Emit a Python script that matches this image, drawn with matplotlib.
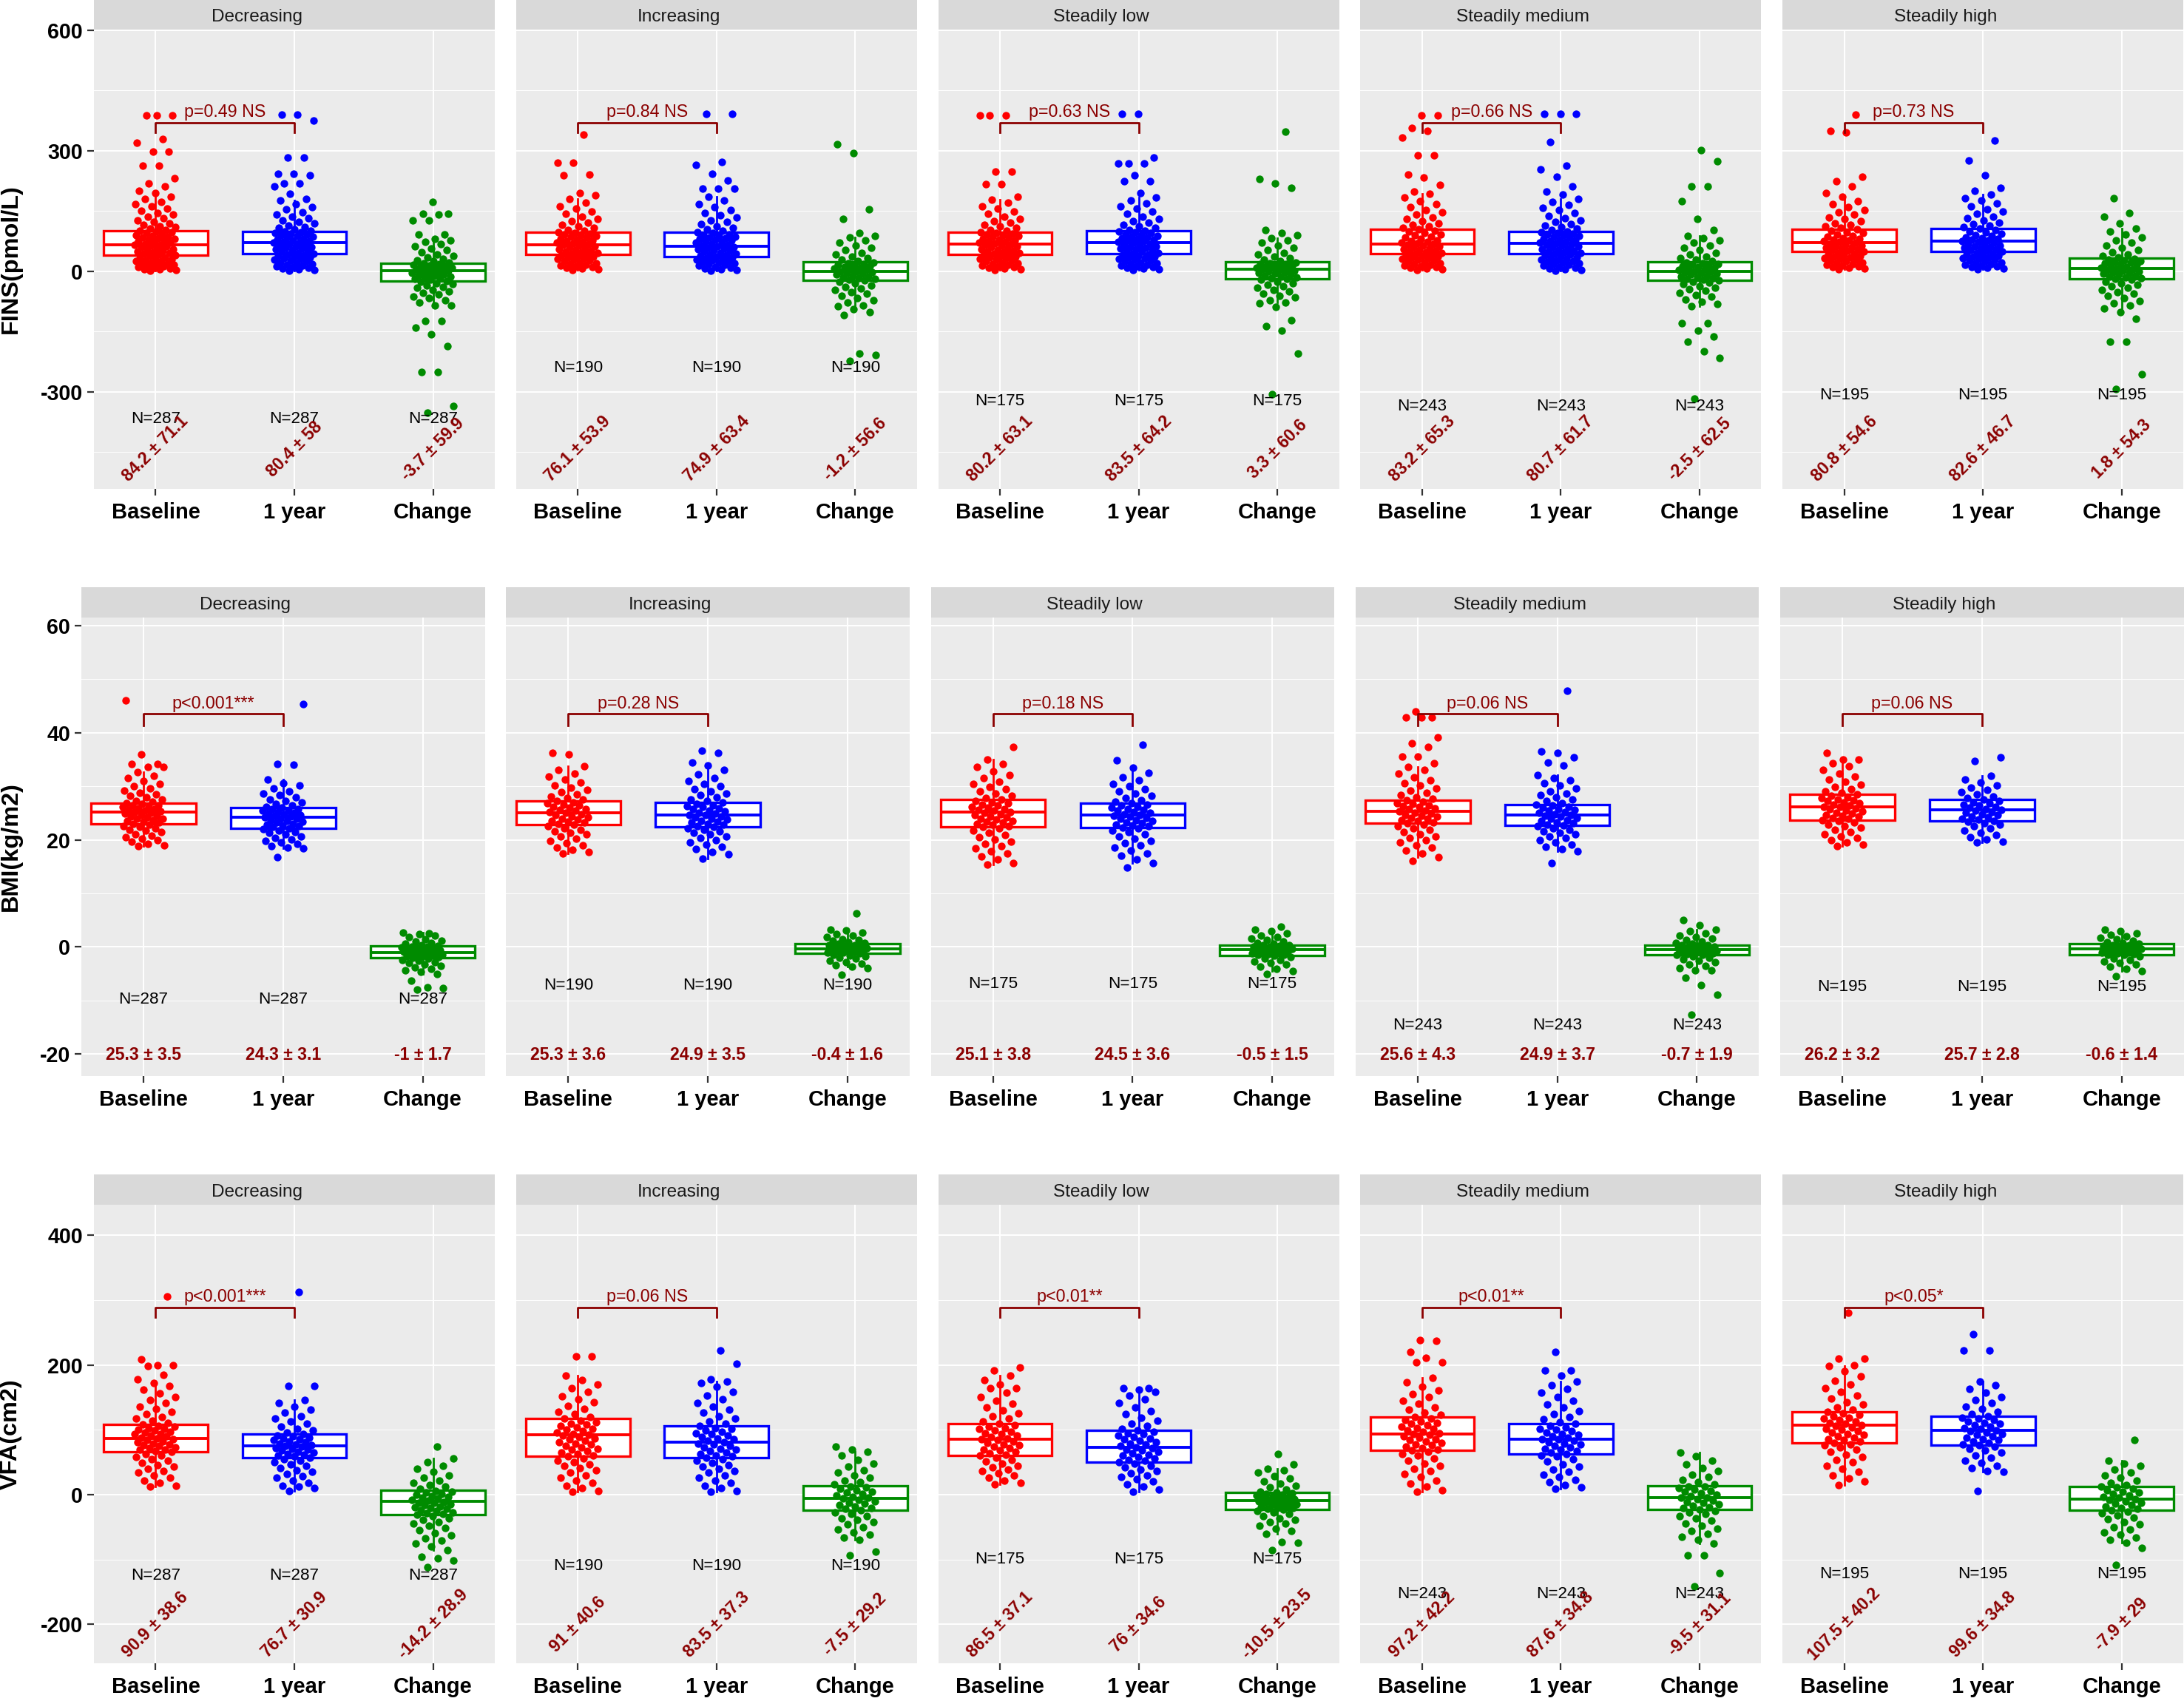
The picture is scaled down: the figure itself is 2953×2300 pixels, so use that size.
import numpy as np
import matplotlib.pyplot as plt

plt.rcParams['font.family'] = ['Liberation Sans', 'DejaVu Sans']

GROUPS = ['Decreasing', 'Increasing', 'Steadily low', 'Steadily medium', 'Steadily high']
TIMES = ['Baseline', '1 year', 'Change']
N_SUBJ = [287, 190, 175, 243, 195]

# ---------------- FINS (pmol/L) ----------------
FINS_BASE = [
    [1, 2, 4, 5, 7, 8, 10, 12, 13, 15, 17, 18, 20, 22, 24, 25, 27, 29, 31, 33, 35, 37,
     39, 41, 43, 45, 47, 49, 51, 53, 55, 57, 59, 61, 63, 65, 66, 68, 70, 72, 74, 76, 78, 80, 82, 84, 86, 88, 90, 92,
     94, 96, 98, 100,
     103, 106, 109, 112, 115, 119, 123, 127, 131, 135, 140, 145, 150, 155, 161, 167, 173, 179, 185,
     195, 200, 210, 218, 231, 262, 262, 297, 297, 320, 328, 387, 387, 387],
    [2, 4, 6, 8, 10, 12, 14, 16, 18, 20, 22, 24, 26, 28, 30, 32, 34, 36, 38, 40,
     41, 43, 45, 47, 49, 51, 53, 55, 57, 59, 61, 63, 65, 67, 69, 71, 73, 75, 77, 79, 81, 83, 85, 87, 89, 91, 93, 95, 97,
     100, 103, 107, 111, 115, 120, 125, 130, 136, 142, 148, 155, 162, 170, 180,
     189, 195, 239, 241, 269, 269, 339],
    [2, 4, 6, 8, 10, 12, 14, 16, 18, 20, 22, 24, 26, 28, 30, 32, 34, 36, 38, 40,
     41, 43, 45, 47, 49, 51, 53, 55, 57, 59, 61, 63, 65, 67, 69, 71, 73, 75, 77, 79, 81, 83, 85, 87, 89, 91, 93, 95, 97,
     100, 103, 107, 111, 115, 120, 125, 130, 136, 142, 148, 155, 162, 170, 178,
     185, 217, 217, 247, 247, 388, 388, 388],
    [2, 4, 6, 8, 10, 12, 14, 16, 18, 20, 22, 24, 26, 28, 30, 32, 34, 36, 38, 40, 42,
     43, 45, 47, 49, 51, 53, 55, 57, 59, 61, 63, 65, 67, 69, 71, 73, 75, 77, 80, 83, 86, 89, 92, 95, 98, 101, 104,
     107, 111, 115, 119, 124, 129, 134, 140, 146, 152, 159, 166, 174, 183, 192,
     197, 215, 232, 241, 288, 288, 333, 348, 356, 388, 388],
    [4, 6, 8, 10, 12, 14, 16, 18, 20, 22, 24, 26, 28, 30, 32, 34, 36, 38, 40, 42, 44, 46,
     48, 50, 52, 54, 56, 58, 60, 62, 64, 66, 68, 70, 72, 74, 76, 78, 80, 82, 85, 88, 91, 94, 97, 100, 104,
     107, 111, 115, 119, 124, 129, 134, 140, 146, 152, 159, 166, 174, 185,
     195, 211, 223, 234, 346, 349, 389],
]
FINS_YEAR = [
    [1, 2, 4, 6, 8, 10, 12, 14, 16, 18, 20, 22, 24, 26, 28, 30, 32, 34, 36, 38, 40, 42,
     44, 46, 48, 50, 52, 54, 56, 58, 60, 62, 64, 66, 68, 70, 71, 73, 75, 77, 79, 81, 83, 85, 87, 89, 91, 93, 95, 97, 98,
     101, 104, 107, 110, 114, 118, 122, 126, 131, 136, 141, 147, 153, 160, 167, 175,
     180, 193, 210, 218, 218, 239, 243, 243, 283, 283, 374, 390, 390],
    [1, 3, 5, 7, 9, 11, 13, 15, 17, 19, 21, 23, 25, 27, 29, 31, 33, 35,
     36, 38, 40, 42, 44, 46, 48, 50, 52, 54, 56, 58, 60, 62, 64, 66, 68, 70, 72, 74, 76, 78, 80, 82, 84, 86, 88, 90, 92,
     94, 97,
     100, 104, 108, 112, 117, 122, 127, 133, 139, 145, 152, 159, 167, 176, 185,
     205, 205, 205, 225, 243, 264, 271, 392, 392],
    [2, 4, 6, 8, 10, 12, 14, 16, 18, 20, 22, 24, 26, 28, 30, 32, 34, 36, 38, 40, 42,
     44, 46, 48, 50, 52, 54, 56, 58, 60, 62, 64, 66, 68, 70, 72, 74, 76, 78, 80, 82, 84, 86, 88, 90, 92, 94, 96, 98, 100,
     103, 107, 111, 115, 120, 125, 130, 136, 142, 148, 155, 162, 169, 176, 183,
     194, 223, 223, 238, 268, 268, 268, 283, 392, 392],
    [1, 3, 5, 7, 9, 11, 13, 15, 17, 19, 21, 23, 25, 27, 29, 31, 33, 35, 37, 39, 41,
     43, 45, 47, 49, 51, 53, 55, 57, 59, 61, 63, 65, 67, 69, 71, 73, 75, 77, 79, 81, 83, 85, 87, 89, 91, 93, 95, 97, 99,
     102, 105, 109, 113, 117, 122, 127, 132, 138, 144, 151, 158, 165, 172, 180,
     190, 197, 211, 234, 254, 262, 322, 392, 392, 392],
    [4, 6, 8, 10, 12, 14, 16, 18, 20, 22, 24, 26, 28, 30, 32, 34, 36, 38, 40, 42, 44, 46,
     48, 50, 52, 54, 56, 58, 60, 62, 64, 66, 68, 70, 72, 74, 76, 78, 80, 82, 84, 87, 90, 93, 96, 99, 102, 106,
     109, 113, 117, 121, 126, 131, 136, 142, 148, 154, 161, 168, 175, 182, 190,
     200, 208, 239, 275, 324],
]
FINS_CHANGE = [
    [-352, -336, -251, -251, -186, -158, -141, -124, -124, -86,
     -85, -79, -73, -68, -63, -58, -54, -50, -46, -42, -39, -36, -33, -30, -27,
     -24, -22, -20, -18, -16, -14, -12, -10, -8, -6, -4, -2, 0, 1, 2, 4, 5, 7, 8, 10, 11, 13, 14, 16, 17, 19,
     21, 24, 27, 30, 34, 38, 42, 47, 52, 57, 62, 67, 72, 76, 80,
     91, 91, 127, 127, 140, 142, 142, 172],
    [-223, -208, -205, -110, -103, -95, -88,
     -85, -79, -73, -67, -62, -57, -52, -47, -43, -39, -35, -31, -27,
     -23, -21, -19, -17, -15, -13, -11, -9, -7, -5, -3, -1, 0, 2, 4, 6, 8, 10, 12, 14, 16, 18, 20, 22,
     25, 28, 32, 36, 41, 46, 52, 58, 64, 70, 77, 84,
     88, 95, 129, 154, 294, 316],
    [-306, -205, -149, -137, -122, -90, -80,
     -78, -72, -66, -61, -56, -51, -46, -42, -38, -34, -30, -26, -22,
     -19, -17, -15, -13, -11, -9, -7, -5, -3, -1, 1, 3, 5, 6, 8, 9, 11, 12, 14, 15, 17, 18, 20, 22,
     25, 28, 32, 36, 41, 46, 52, 58, 64, 70, 76, 82,
     90, 94, 103, 208, 219, 230, 347],
    [-317, -216, -200, -176, -163, -149, -130, -130,
     -88, -82, -76, -70, -64, -59, -54, -49, -45, -41, -37, -33, -29, -26,
     -23, -21, -19, -17, -15, -13, -11, -9, -7, -5, -3, -1, 0, 2, 4, 6, 8, 10, 12, 14, 16, 18, 20, 22,
     25, 28, 32, 36, 41, 46, 52, 58, 64, 70, 76, 82, 88,
     103, 129, 174, 211, 211, 274, 301],
    [-293, -257, -175, -175, -118, -103,
     -92, -86, -80, -74, -68, -62, -57, -52, -47, -42, -38, -34, -30, -26, -22,
     -19, -17, -15, -13, -11, -9, -7, -5, -3, -1, 1, 3, 5, 7, 9, 11, 13, 15, 17, 19, 21, 23, 25, 27, 29, 31,
     34, 38, 42, 47, 52, 58, 64, 70, 77, 84, 91, 98, 105,
     118, 136, 144, 181],
]
# (q1, median, q3, lower whisker, upper whisker) for baseline, 1 year, change
FINS_BOX = [
    [(39, 66, 100, 1, 185), (44, 70, 98, 1, 175), (-24, 1, 18.6, -85, 80)],
    [(41, 65, 97.5, 2, 180), (36, 61.5, 97, 1, 185), (-23, 0, 22.5, -85, 84)],
    [(41, 67.5, 97.5, 2, 178), (44, 70.5, 100.5, 2, 183), (-19, 5, 22.5, -78, 82)],
    [(43, 67.5, 104, 2, 192), (43, 69, 99, 1, 180), (-23, 0, 22.5, -88, 88)],
    [(48, 70.5, 104, 4, 185), (48, 75, 106.5, 4, 190), (-19.5, 7, 31.5, -92, 105)],
]
FINS_MEAN = [[84.2, 80.4, -3.7], [76.1, 74.9, -1.2], [80.2, 83.5, 3.3], [83.2, 80.7, -2.5], [80.8, 82.6, 1.8]]
FINS_SD = [[71.1, 58, 59.9], [53.9, 63.4, 56.6], [63.1, 64.2, 60.6], [65.3, 61.7, 62.5], [54.6, 46.7, 54.3]]
FINS_P = ['p=0.49 NS', 'p=0.84 NS', 'p=0.63 NS', 'p=0.66 NS', 'p=0.73 NS']

# ---------------- BMI (kg/m2) ----------------
BMI_BASE = [
    [18.8, 19.0, 19.3, 19.6, 19.9, 20.2, 20.5, 20.8, 21.1, 21.4, 21.7, 21.9, 22.2, 22.4, 22.6, 22.8,
     23.0, 23.2, 23.4, 23.5, 23.7, 23.9, 24.0, 24.2, 24.4, 24.5, 24.7, 24.9, 25.0, 25.2, 25.3, 25.5, 25.6, 25.8, 25.9,
     26.1, 26.2, 26.4, 26.5, 26.7, 26.9,
     27.1, 27.3, 27.6, 27.9, 28.2, 28.5, 28.8, 29.2, 29.6, 30.0, 30.5, 31.0, 31.5, 32.0, 32.6,
     33.6, 33.6, 34.1, 34.1, 35.9, 46.1],
    [17.4, 17.8, 18.2, 18.6, 19.0, 19.4, 19.8, 20.2, 20.6, 21.0, 21.3, 21.6, 21.9, 22.2, 22.5,
     22.8, 23.0, 23.2, 23.4, 23.6, 23.8, 24.0, 24.2, 24.4, 24.6, 24.8, 25.0, 25.2, 25.4, 25.6, 25.8, 26.0, 26.2, 26.4,
     26.6, 26.8, 27.0, 27.2,
     27.5, 27.8, 28.1, 28.5, 28.9, 29.3, 29.7, 30.2, 30.7, 31.2, 31.8, 32.4, 33.1, 33.8,
     36.0, 36.2],
    [15.4, 15.7, 16.3, 16.9, 17.4, 17.9, 18.4, 18.9, 19.3, 19.7, 20.1, 20.5, 20.9, 21.3, 21.7, 22.1,
     22.4, 22.6, 22.8, 23.0, 23.2, 23.4, 23.6, 23.8, 24.0, 24.2, 24.4, 24.6, 24.8, 25.0, 25.2, 25.4, 25.6, 25.8, 26.0,
     26.2, 26.4, 26.6, 26.8, 27.0, 27.2, 27.5,
     27.8, 28.2, 28.6, 29.0, 29.4, 29.9, 30.4, 30.9, 31.5, 32.1, 32.8, 33.6, 34.2, 35.0,
     37.4],
    [16.1, 16.7, 17.5, 18.0, 18.5, 19.0, 19.5, 19.9, 20.3, 20.7, 21.1, 21.5, 21.9, 22.2, 22.5, 22.8,
     23.1, 23.3, 23.5, 23.7, 23.9, 24.1, 24.3, 24.5, 24.7, 24.9, 25.1, 25.3, 25.5, 25.7, 25.9, 26.1, 26.3, 26.5, 26.7,
     26.9, 27.1, 27.4,
     27.7, 28.0, 28.4, 28.8, 29.2, 29.6, 30.1, 30.6, 31.1, 31.7, 32.3, 33.0, 33.6,
     34.3, 35.6, 35.6, 37.4, 38.0, 39.2, 42.8, 42.8, 42.8, 44.0],
    [18.9, 19.1, 19.5, 19.9, 20.3, 20.7, 21.1, 21.5, 21.9, 22.3, 22.6, 22.9, 23.2, 23.5,
     23.7, 23.9, 24.1, 24.3, 24.5, 24.7, 24.9, 25.1, 25.3, 25.5, 25.7, 25.9, 26.1, 26.2, 26.4, 26.6, 26.8, 27.0, 27.2,
     27.4, 27.6, 27.8, 28.0, 28.2, 28.5,
     28.8, 29.1, 29.5, 29.9, 30.3, 30.8, 31.3, 31.8, 32.4, 33.0, 33.7, 34.3, 35.0, 35.0,
     36.3],
]
BMI_YEAR = [
    [16.8, 18.4, 18.6, 18.9, 19.2, 19.5, 19.8, 20.1, 20.4, 20.7, 21.0, 21.3, 21.5, 21.8, 22.0,
     22.2, 22.4, 22.5, 22.7, 22.9, 23.0, 23.2, 23.4, 23.5, 23.7, 23.9, 24.0, 24.2, 24.3, 24.5, 24.6, 24.8, 24.9, 25.1,
     25.2, 25.4, 25.5, 25.7, 25.8, 26.0,
     26.2, 26.4, 26.7, 27.0, 27.3, 27.6, 27.9, 28.3, 28.7, 29.1, 29.6, 30.1, 30.6, 31.2,
     34.0, 34.2, 45.4],
    [16.5, 17.3, 17.8, 18.3, 18.7, 19.1, 19.5, 19.9, 20.3, 20.7, 21.0, 21.3, 21.6, 21.9, 22.2,
     22.4, 22.6, 22.8, 23.0, 23.2, 23.4, 23.6, 23.8, 24.0, 24.2, 24.4, 24.6, 24.7, 24.9, 25.1, 25.3, 25.5, 25.7, 25.9,
     26.1, 26.3, 26.5, 26.7, 27.0,
     27.3, 27.6, 27.9, 28.3, 28.7, 29.1, 29.5, 30.0, 30.5, 31.0, 31.6, 32.2, 33.0, 33.9,
     34.4, 36.2, 36.7],
    [14.9, 15.7, 16.4, 17.0, 17.5, 18.0, 18.5, 19.0, 19.4, 19.8, 20.2, 20.6, 21.0, 21.4, 21.8, 22.1,
     22.3, 22.5, 22.7, 22.9, 23.1, 23.3, 23.5, 23.7, 23.9, 24.1, 24.3, 24.5, 24.6, 24.8, 25.0, 25.2, 25.4, 25.6, 25.8,
     26.0, 26.2, 26.4, 26.6, 26.8,
     27.1, 27.4, 27.8, 28.2, 28.6, 29.0, 29.5, 30.0, 30.5, 31.1, 31.7, 32.5, 33.5,
     34.8, 37.8],
    [15.6, 17.9, 18.3, 18.7, 19.1, 19.5, 19.9, 20.3, 20.7, 21.0, 21.3, 21.6, 21.9, 22.2, 22.5,
     22.7, 22.9, 23.1, 23.3, 23.5, 23.7, 23.9, 24.1, 24.3, 24.5, 24.7, 24.8, 25.0, 25.2, 25.4, 25.6, 25.8, 26.0, 26.2,
     26.4, 26.6,
     26.9, 27.2, 27.5, 27.9, 28.3, 28.7, 29.1, 29.6, 30.1, 30.6, 31.1, 31.6, 32.1,
     33.9, 34.5, 35.4, 36.3, 36.5, 47.8],
    [19.5, 19.7, 20.1, 20.5, 20.9, 21.3, 21.7, 22.1, 22.5, 22.8, 23.1, 23.4,
     23.6, 23.8, 24.0, 24.2, 24.4, 24.6, 24.8, 25.0, 25.2, 25.4, 25.6, 25.8, 26.0, 26.2, 26.4, 26.6, 26.8, 27.0, 27.2,
     27.5,
     27.8, 28.1, 28.5, 28.9, 29.3, 29.7, 30.2, 30.7, 31.3, 32.0,
     34.7, 35.4],
]
BMI_CHANGE = [
    [-7.9, -7.7, -7.5, -6.3,
     -5.0, -4.7, -4.4, -4.1, -3.8, -3.5, -3.3, -3.0, -2.8, -2.6, -2.4, -2.2,
     -2.0, -1.9, -1.8, -1.7, -1.6, -1.5, -1.4, -1.3, -1.2, -1.1, -1.0, -0.9, -0.8, -0.7, -0.6, -0.5, -0.4, -0.3, -0.2,
     -0.1, 0.0, 0.1, 0.2,
     0.4, 0.6, 0.8, 1.0, 1.2, 1.5, 1.8, 2.1, 2.4, 2.7, 2.6],
    [-5.2, -3.9, -3.7, -3.4, -3.1, -2.8, -2.5, -2.2, -2.0, -1.8, -1.6, -1.4,
     -1.2, -1.1, -1.0, -0.9, -0.8, -0.7, -0.6, -0.5, -0.4, -0.3, -0.2, -0.1, 0.0, 0.1, 0.2, 0.3, 0.4, 0.55,
     0.7, 0.9, 1.1, 1.3, 1.5, 1.8, 2.1, 2.4, 2.7, 3.1, 3.3, 6.3],
    [-5.0, -4.5, -4.1, -3.7, -3.3, -3.0, -2.7, -2.4, -2.1, -1.9,
     -1.6, -1.5, -1.4, -1.3, -1.2, -1.1, -1.0, -0.9, -0.8, -0.7, -0.6, -0.5, -0.4, -0.3, -0.2, -0.1, 0.0, 0.1, 0.2,
     0.3, 0.4,
     0.6, 0.8, 1.0, 1.3, 1.6, 1.9, 2.2, 2.6, 3.0, 3.3, 3.8],
    [-12.6, -8.9, -7.1, -5.7, -4.4,
     -4.3, -3.9, -3.5, -3.2, -2.9, -2.6, -2.3, -2.0, -1.8,
     -1.5, -1.4, -1.3, -1.2, -1.1, -1.0, -0.9, -0.8, -0.7, -0.6, -0.5, -0.4, -0.3, -0.2, -0.1, 0.0, 0.1, 0.2, 0.3, 0.4,
     0.6, 0.8, 1.0, 1.3, 1.6, 1.9, 2.2, 2.5, 2.9, 3.2, 4.1, 5.0],
    [-5.4, -4.5, -4.1, -3.7, -3.3, -3.0, -2.7, -2.4, -2.1, -1.8,
     -1.5, -1.4, -1.3, -1.2, -1.1, -1.0, -0.9, -0.8, -0.7, -0.6, -0.5, -0.4, -0.3, -0.2, -0.1, 0.0, 0.1, 0.2, 0.3,
     0.4, 0.55,
     0.7, 0.9, 1.1, 1.4, 1.7, 2.0, 2.3, 2.6, 3.0, 3.3],
]
BMI_BOX = [
    [(23.0, 25.2, 26.9, 18.8, 32.6), (22.2, 24.2, 26.0, 18.4, 31.2), (-2.0, -1.0, 0.2, -5.0, 2.7)],
    [(22.8, 25.0, 27.2, 17.4, 33.8), (22.4, 24.7, 27.0, 16.5, 33.9), (-1.2, -0.4, 0.55, -3.7, 3.1)],
    [(22.4, 25.2, 27.5, 15.4, 35.0), (22.3, 24.6, 26.8, 15.7, 33.5), (-1.6, -0.5, 0.4, -4.5, 3.3)],
    [(23.1, 25.3, 27.4, 16.7, 33.6), (22.7, 24.7, 26.6, 17.9, 32.1), (-1.5, -0.5, 0.4, -4.3, 3.2)],
    [(23.7, 26.2, 28.5, 18.9, 35.0), (23.6, 25.6, 27.5, 19.5, 32.0), (-1.5, -0.4, 0.55, -4.5, 3.3)],
]
BMI_MEAN = [[25.3, 24.3, -1], [25.3, 24.9, -0.4], [25.1, 24.5, -0.5], [25.6, 24.9, -0.7], [26.2, 25.7, -0.6]]
BMI_SD = [[3.5, 3.1, 1.7], [3.6, 3.5, 1.6], [3.8, 3.6, 1.5], [4.3, 3.7, 1.9], [3.2, 2.8, 1.4]]
BMI_P = ['p<0.001***', 'p=0.28 NS', 'p=0.18 NS', 'p=0.06 NS', 'p=0.06 NS']

# ---------------- VFA (cm2) ----------------
VFA_BASE = [
    [12, 14, 18, 22, 26, 30, 34, 37, 40, 43, 46, 49, 52, 55, 58, 60, 63,
     66, 67, 69, 70, 72, 73, 75, 76, 78, 79, 81, 82, 84, 85, 87, 88, 90, 91, 93, 94, 96, 97, 99, 100, 102, 103, 105,
     106, 108,
     111, 114, 117, 120, 124, 128, 132, 136, 141, 146, 151, 156, 162, 168, 172,
     178, 185, 198, 200, 200, 209, 306],
    [4, 6, 10, 14, 18, 22, 26, 30, 34, 38, 41, 44, 47, 50, 53, 56,
     59, 61, 63, 65, 67, 69, 71, 73, 75, 77, 79, 81, 83, 85, 87, 89, 91, 92, 94, 96, 98, 100, 102, 104, 106, 108, 110,
     112, 114, 117,
     120, 124, 128, 132, 137, 142, 147, 152, 158, 164, 170, 177, 184,
     213, 213],
    [16, 18, 22, 26, 30, 33, 36, 39, 42, 45, 48, 51, 54, 57,
     60, 62, 64, 66, 68, 70, 72, 74, 76, 78, 80, 82, 84, 85, 87, 89, 91, 93, 95, 97, 99, 101, 103, 105, 107, 110,
     113, 117, 121, 125, 130, 135, 140, 145, 151, 157, 164, 164, 170, 177, 184,
     191, 196],
    [4, 7, 12, 17, 22, 27, 32, 36, 40, 44, 48, 52, 56, 60, 63, 66,
     68, 70, 72, 74, 76, 78, 80, 82, 84, 86, 88, 90, 92, 93, 95, 97, 99, 101, 103, 105, 107, 109, 111, 113, 115, 117,
     120,
     123, 127, 131, 135, 140, 145, 150, 155, 161, 167, 173, 180,
     204, 204, 211, 220, 237, 238],
    [15, 20, 25, 30, 35, 40, 45, 50, 54, 58, 62, 66, 70, 73, 76, 78,
     80, 82, 84, 86, 88, 90, 92, 94, 96, 98, 100, 102, 104, 106, 107, 109, 111, 113, 115, 117, 119, 121, 123, 125, 128,
     131, 135, 139, 143, 148, 153, 158, 164, 170, 176, 183, 190, 198, 200,
     210, 210, 281],
]
VFA_YEAR = [
    [6, 10, 12, 14, 18, 22, 26, 29, 32, 35, 38, 41, 44, 47, 50, 53, 55,
     57, 59, 60, 62, 63, 65, 66, 68, 69, 71, 72, 74, 75, 76, 78, 79, 81, 82, 84, 85, 87, 88, 90, 91, 93,
     96, 99, 102, 105, 109, 113, 117, 121, 126, 131, 136, 141, 146,
     168, 168, 313],
    [4, 6, 10, 14, 18, 22, 26, 30, 34, 37, 40, 43, 46, 49, 52, 55,
     57, 59, 61, 63, 65, 67, 69, 71, 73, 75, 77, 79, 81, 83, 85, 87, 89, 91, 93, 95, 97, 99, 101, 103, 106,
     109, 113, 117, 121, 126, 131, 136, 141, 147, 153, 159, 166, 172, 175, 178,
     202, 222],
    [4, 8, 12, 16, 20, 24, 27, 30, 33, 36, 39, 42, 45, 48,
     50, 52, 54, 56, 58, 60, 62, 64, 66, 68, 70, 72, 73, 75, 77, 79, 81, 83, 85, 87, 89, 91, 93, 95, 97, 99,
     102, 106, 110, 114, 119, 124, 129, 135, 141, 147, 153, 158, 162, 164, 164],
    [9, 11, 15, 19, 23, 27, 31, 35, 39, 43, 47, 51, 55, 59, 61,
     63, 65, 67, 69, 71, 73, 75, 77, 79, 81, 83, 85, 86, 88, 90, 92, 94, 96, 98, 100, 102, 104, 106, 109,
     112, 116, 120, 124, 129, 134, 139, 145, 151, 157, 163, 169, 174,
     184, 191, 191, 220],
    [6, 35, 37, 41, 45, 49, 53, 57, 61, 65, 68, 71, 74,
     76, 78, 80, 82, 84, 86, 88, 90, 92, 94, 96, 98, 99, 101, 103, 105, 107, 109, 111, 113, 115, 117, 119, 121,
     124, 128, 132, 136, 141, 146, 151, 157, 163, 169, 175,
     222, 222, 248],
]
VFA_CHANGE = [
    [-112, -101, -98, -96,
     -85, -80, -75, -71, -67, -63, -59, -55, -51, -48, -45, -42, -39, -36, -33,
     -31, -30, -28, -27, -25, -24, -22, -21, -19, -18, -16, -15, -13, -12, -11, -9, -8, -6, -5, -3, -2, 0, 1, 3, 4, 6,
     9, 12, 15, 18, 22, 26, 30, 35, 40, 45, 50, 56, 74],
    [-94, -88,
     -70, -66, -62, -58, -54, -50, -46, -42, -39, -36, -33, -30, -27,
     -24, -22, -20, -18, -16, -14, -12, -10, -8, -6, -5, -3, -1, 1, 3, 5, 7, 9, 11, 13,
     16, 19, 22, 26, 30, 34, 38, 43, 48, 54, 60, 66, 70, 74],
    [-85, -74, -73,
     -60, -56, -52, -48, -45, -42, -39, -36, -33, -30, -27, -25,
     -23, -22, -21, -20, -19, -17, -16, -15, -14, -13, -12, -11, -10, -9, -8, -7, -6, -5, -3, -2, -1, 0, 1, 2, 3,
     5, 8, 11, 14, 17, 21, 25, 29, 34, 38, 40, 47, 63],
    [-141, -121, -94, -93,
     -75, -70, -65, -60, -56, -52, -48, -44, -40, -36, -33, -30, -27, -25,
     -23, -21, -19, -17, -15, -13, -11, -9, -7, -5, -4, -2, 0, 2, 4, 6, 8, 10, 12, 13,
     16, 19, 23, 27, 31, 36, 41, 47, 53, 59, 65],
    [-108, -82,
     -74, -70, -66, -62, -58, -54, -50, -46, -42, -38, -35, -32, -29, -26,
     -24, -22, -20, -18, -16, -14, -12, -10, -8, -7, -5, -3, -1, 1, 3, 5, 7, 9, 11, 12,
     15, 18, 22, 26, 30, 34, 39, 44, 48, 52, 84],
]
VFA_BOX = [
    [(65.6, 87, 108.6, 12, 172), (57.5, 75, 93.5, 6, 146), (-31, -10.8, 6.5, -85, 56)],
    [(59, 92, 117, 4, 184), (57, 81, 106, 4, 175), (-24, -5.4, 13.5, -70, 66)],
    [(60, 85, 110, 16, 184), (50, 73, 99, 4, 164), (-23, -9, 3, -60, 40)],
    [(68, 93.5, 120, 4, 180), (63, 86, 109, 9, 174), (-23, -4.5, 13.5, -75, 65)],
    [(80, 107, 128, 15, 198), (76, 99, 121, 35, 175), (-24, -7, 12, -74, 52)],
]
VFA_MEAN = [[90.9, 76.7, -14.2], [91, 83.5, -7.5], [86.5, 76, -10.5], [97.2, 87.6, -9.5], [107.5, 99.6, -7.9]]
VFA_SD = [[38.6, 30.9, 28.9], [40.6, 37.3, 29.2], [37.1, 34.6, 23.5], [42.2, 34.8, 31.1], [40.2, 34.8, 29]]
VFA_P = ['p<0.001***', 'p=0.06 NS', 'p<0.01**', 'p<0.01**', 'p<0.05*']

# ---------------- layout / style ----------------
W, H, DPI = 2953, 2300, 200
COLORS = ['#FF0000', '#0000FF', '#008B00']
DARKRED = '#8B0000'

ROWS = [
    dict(label='FINS(pmol/L)', pts=(FINS_BASE, FINS_YEAR, FINS_CHANGE), box=FINS_BOX,
         mean=FINS_MEAN, sd=FINS_SD, p=FINS_P,
         ylim=(-542, 601), major=[-300, 0, 300, 600], minor=[-450, -150, 150, 450],
         n_y=[-368, -241, -323, -336, -310], stat_y=-443, stat_rot=45,
         bracket=(345, 370, 396),
         left=127, pitch=570.8, width=542, top=0, strip=40, bottom=661),
    dict(label='BMI(kg/m2)', pts=(BMI_BASE, BMI_YEAR, BMI_CHANGE), box=BMI_BOX,
         mean=BMI_MEAN, sd=BMI_SD, p=BMI_P,
         ylim=(-24.1, 61.5), major=[-20, 0, 20, 40, 60], minor=[-10, 10, 30, 50],
         n_y=[-9.8, -7.2, -6.9, -14.6, -7.4], stat_y=-20.2, stat_rot=0,
         bracket=(41.4, 43.5, 45.4),
         left=110, pitch=574.3, width=545.5, top=794, strip=41, bottom=1455),
    dict(label='VFA(cm2)', pts=(VFA_BASE, VFA_YEAR, VFA_CHANGE), box=VFA_BOX,
         mean=VFA_MEAN, sd=VFA_SD, p=VFA_P,
         ylim=(-260, 447), major=[-200, 0, 200, 400], minor=[-100, 100, 300],
         n_y=[-125, -110, -100, -153, -123], stat_y=-200, stat_rot=45,
         bracket=(274, 289, 305),
         left=127, pitch=570.8, width=542, top=1588, strip=41, bottom=2249),
]
STRIP_SHIFT = -51  # strip titles sit left of the panel centre (px)


def px_rect(left, top, width, height):
    return [left / W, 1 - (top + height) / H, width / W, height / H]


def jitter(n, half_width=0.15):
    # evenly spread horizontal offsets (golden-ratio sequence)
    frac = (np.arange(n) * 0.6180339887 + 0.37) % 1.0
    return (frac - 0.5) * 2 * half_width


fig = plt.figure(figsize=(W / DPI, H / DPI), dpi=DPI)

for row in ROWS:
    panel_top = row['top'] + row['strip']
    panel_h = row['bottom'] - panel_top
    for g, name in enumerate(GROUPS):
        left = row['left'] + g * row['pitch']
        ax = fig.add_axes(px_rect(left, panel_top, row['width'], panel_h))
        sax = fig.add_axes(px_rect(left, row['top'], row['width'], row['strip']))

        # strip
        sax.set_facecolor('#D9D9D9')
        sax.set_xticks([])
        sax.set_yticks([])
        for sp in sax.spines.values():
            sp.set_visible(False)
        sax.text(0.5 + STRIP_SHIFT / row['width'], 0.42, name, transform=sax.transAxes,
                 ha='center', va='center', fontsize=8.8, color='#1A1A1A')

        # panel
        ax.set_facecolor('#EBEBEB')
        for sp in ax.spines.values():
            sp.set_visible(False)
        ax.set_axisbelow(True)
        ax.set_xlim(0.555, 3.445)
        ax.set_ylim(*row['ylim'])
        ax.set_xticks([1, 2, 3])
        ax.set_xticklabels(TIMES, fontsize=10.5, fontweight='bold')
        ax.set_yticks(row['major'])
        ax.set_yticks(row['minor'], minor=True)
        ax.set_yticklabels([str(v) for v in row['major']], fontsize=10.3, fontweight='bold')
        ax.grid(which='major', color='white', linewidth=0.7)
        ax.grid(which='minor', axis='y', color='white', linewidth=0.35)
        ax.tick_params(which='major', length=3.2, width=0.8, color='#333333', pad=2.2, labelcolor='black')
        ax.tick_params(axis='x', pad=3.4)
        ax.tick_params(which='minor', length=0)
        if g > 0:
            ax.tick_params(axis='y', which='both', left=False, labelleft=False)

        for t in range(3):
            col = COLORS[t]
            q1, med, q3, wlo, whi = row['box'][g][t]
            ax.bxp([dict(q1=q1, med=med, q3=q3, whislo=wlo, whishi=whi, fliers=[])],
                   positions=[t + 1], widths=0.75, patch_artist=True, showcaps=False,
                   showfliers=False, manage_ticks=False,
                   boxprops=dict(facecolor='white', edgecolor=col, linewidth=1.2),
                   medianprops=dict(color=col, linewidth=1.4),
                   whiskerprops=dict(color=col, linewidth=1.0))
            vals = np.asarray(row['pts'][t][g], dtype=float)
            ax.scatter(t + 1 + jitter(len(vals)), vals, s=14, color=col, linewidths=0, zorder=3)

            ax.text(t + 1, row['n_y'][g], f'N={N_SUBJ[g]}', ha='center', va='center',
                    fontsize=8.1, color='black', zorder=4)
            ax.text(t + 1, row['stat_y'], f"{row['mean'][g][t]:g} \u00b1 {row['sd'][g][t]:g}",
                    ha='center', va='center', rotation=row['stat_rot'], rotation_mode='anchor',
                    fontsize=8.3, fontweight='bold', color=DARKRED, zorder=4)

        lo, bar, ty = row['bracket']
        ax.plot([1, 1, 2, 2], [lo, bar, bar, lo], color=DARKRED, linewidth=1.0, zorder=4)
        ax.text(1.5, ty, row['p'][g], ha='center', va='center', fontsize=8.4, color=DARKRED, zorder=4)

    mid = (panel_top + row['bottom']) / 2
    fig.text(15 / W, 1 - mid / H, row['label'], rotation=90, ha='center', va='center',
             fontsize=11.7, fontweight='bold')

fig.savefig('out.png', dpi=DPI)
